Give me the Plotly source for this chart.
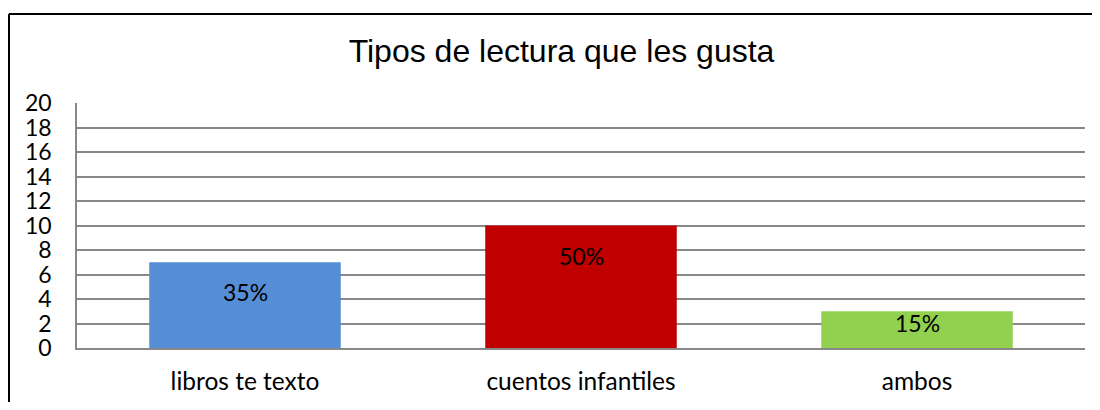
import plotly.graph_objects as go

categorias = ['libros te texto', 'cuentos infantiles', 'ambos']
valores = [7, 10, 3]
porcentajes = ['35%', '50%', '15%']
colores = ['#558ED5', '#C00000', '#92D050']

y_max = 20
ancho, alto = 1084, 394  # la página añade 8 px de margen
m_izq, m_der, m_sup, m_inf = 69, 7, 95, 50
alto_plot = alto - m_sup - m_inf
ancho_plot = ancho - m_izq - m_der
px_por_unidad = alto_plot / y_max

fig = go.Figure()
fig.add_trace(go.Bar(x=categorias, y=valores, marker_color=colores,
                     marker_line_width=0, hoverinfo='skip'))

# etiquetas dentro de la barra, cerca del extremo superior
for c, v, t in zip(categorias, valores, porcentajes):
    h = v * px_por_unidad
    fig.add_annotation(x=c, y=v, text=t, showarrow=False, yanchor='middle',
                       yshift=-min(30, h - 26),
                       font=dict(family='Lato', size=23, color='black'))

# marco del gráfico (solo se ven el borde superior y el izquierdo)
borde_x = (1 - m_izq) / ancho_plot
borde_y = (alto_plot + m_sup - 4.5) / alto_plot
fig.add_shape(type='line', xref='paper', yref='paper',
              x0=borde_x, x1=1.2, y0=borde_y, y1=borde_y,
              line=dict(color='black', width=2))
fig.add_shape(type='line', xref='paper', yref='paper',
              x0=borde_x, x1=borde_x, y0=-0.6, y1=borde_y,
              line=dict(color='black', width=2))

fig.update_layout(
    width=ancho, height=alto,
    margin=dict(l=m_izq, r=m_der, t=m_sup, b=m_inf),
    paper_bgcolor='white', plot_bgcolor='white',
    bargap=0.43, showlegend=False,
    title=dict(text='Tipos de lectura que les gusta', x=(561.5 - 8) / ancho,
               xanchor='center', y=1 - 43 / alto, yanchor='middle',
               font=dict(family='Liberation Sans', size=32, color='black')),
    font=dict(family='Lato', color='black'),
)
fig.update_xaxes(showline=True, linecolor='#888', linewidth=1.5,
                 tickfont=dict(size=24.5), ticklabelstandoff=11)
fig.update_yaxes(range=[0, y_max], dtick=2, showgrid=True, gridcolor='#888',
                 gridwidth=1.5, showline=True, linecolor='#888', linewidth=1.5,
                 zeroline=False, tickfont=dict(size=23), ticklabelstandoff=19)

fig.write_html('out.html')
